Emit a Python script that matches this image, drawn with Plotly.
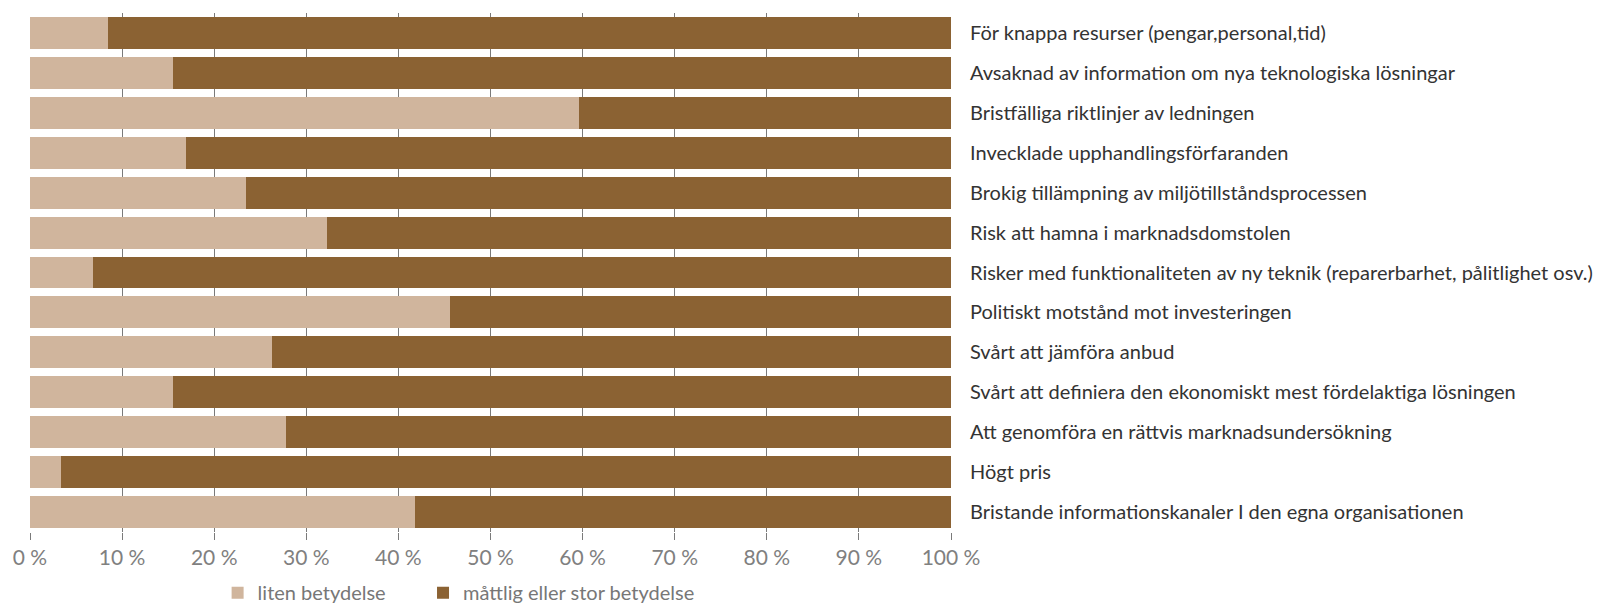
import plotly.graph_objects as go

categories = [
    "För knappa resurser (pengar,personal,tid)",
    "Avsaknad av information om nya teknologiska lösningar",
    "Bristfälliga riktlinjer av ledningen",
    "Invecklade upphandlingsförfaranden",
    "Brokig tillämpning av miljötillståndsprocessen",
    "Risk att hamna i marknadsdomstolen",
    "Risker med funktionaliteten av ny teknik (reparerbarhet, pålitlighet osv.)",
    "Politiskt motstånd mot investeringen",
    "Svårt att jämföra anbud",
    "Svårt att definiera den ekonomiskt mest fördelaktiga lösningen",
    "Att genomföra en rättvis marknadsundersökning",
    "Högt pris",
    "Bristande informationskanaler I den egna organisationen",
]
liten = [8.5, 15.5, 59.6, 16.9, 23.5, 32.2, 6.8, 45.6, 26.3, 15.5, 27.8, 3.4, 41.8]
mattlig = [round(100 - v, 1) for v in liten]
series_names = ["liten betydelse", "måttlig eller stor betydelse"]
tick_vals = [0, 10, 20, 30, 40, 50, 60, 70, 80, 90, 100]
tick_text = ["0 %", "10 %", "20 %", "30 %", "40 %", "50 %", "60 %", "70 %", "80 %", "90 %", "100 %"]

LIGHT = "#D0B59D"
DARK = "#8B6233"

fig = go.Figure()
fig.add_trace(go.Bar(y=categories, x=liten, orientation="h", name=series_names[0],
                     marker=dict(color=LIGHT, line=dict(width=0)), legend="legend"))
fig.add_trace(go.Bar(y=categories, x=mattlig, orientation="h", name=series_names[1],
                     marker=dict(color=DARK, line=dict(width=0)), legend="legend2"))

legend_common = dict(orientation="h", xanchor="left", yanchor="middle",
                     xref="container", yref="container", y=0.022,
                     bgcolor="rgba(0,0,0,0)",
                     font=dict(family="Lato", size=20, color="#777777"))

fig.update_layout(
    barmode="stack",
    bargap=0.2,
    width=1606, height=606,
    margin=dict(l=30, r=655, t=13, b=74, autoexpand=False),
    paper_bgcolor="white", plot_bgcolor="white",
    font=dict(family="Lato", size=20, color="#333333"),
    showlegend=True,
    legend=dict(x=0.1355, **legend_common),
    legend2=dict(x=0.2634, **legend_common),
    xaxis=dict(range=[0, 100], tickvals=tick_vals, ticktext=tick_text,
               showgrid=True, gridcolor="#7a7a7a", gridwidth=1,
               ticks="outside", ticklen=7, tickcolor="#7a7a7a", tickwidth=1,
               zeroline=False, showline=False,
               tickfont=dict(size=21, color="#808080")),
    yaxis=dict(categoryorder="array", categoryarray=categories, autorange="reversed",
               side="right", showgrid=False, zeroline=False, showline=False,
               ticks="", ticklabelstandoff=18,
               tickfont=dict(size=20, color="#333333")),
)

fig.write_html("out.html", config={"displayModeBar": False},
               post_script="document.body.style.margin='0px';")
